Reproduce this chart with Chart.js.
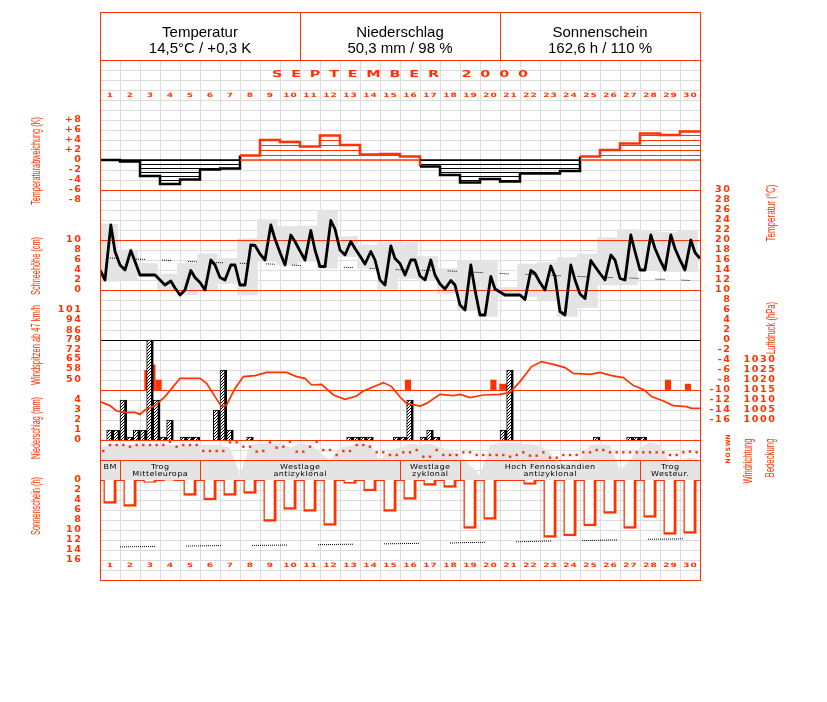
<!DOCTYPE html>
<html lang="de">
<head>
<meta charset="utf-8">
<title>September 2000</title>
<script src="https://cdn.jsdelivr.net/npm/chart.js@4.4.1/dist/chart.umd.min.js"></script>
<style>
html,body{margin:0;padding:0;background:#ffffff;overflow:hidden;}
canvas{display:block;}
</style>
</head>
<body>
<canvas id="chart" width="827" height="702"></canvas>
<script>
// ===================== DATA =====================
const dayLabels = ['1','2','3','4','5','6','7','8','9','10','11','12','13','14','15',
                   '16','17','18','19','20','21','22','23','24','25','26','27','28','29','30'];
const headerTitles = ['Temperatur', 'Niederschlag', 'Sonnenschein'];
const headerValues = ['14,5°C / +0,3 K', '50,3 mm / 98 %', '162,6 h / 110 %'];
const monthTitle = 'SEPTEMBER 2000';

// daily temperature deviation (K)
const tempDeviation = [0.0,-0.3,-3.2,-4.8,-3.9,-1.9,-1.7,0.9,4.0,3.6,2.7,4.9,3.0,1.1,1.2,
                       0.7,-1.3,-3.0,-4.5,-3.8,-4.3,-2.7,-2.7,-2.2,0.7,2.0,3.3,5.3,5.0,5.7];

// temperature observations (°C), 4 per day at these hours
const obsHours = [0, 6, 13, 18];
const tempObs = [
  14.0, 12.0, 23.0, 17.7,
  15.0, 14.0, 17.9, 15.7,
  13.0, 13.0, 13.0, 13.0,
  12.0, 11.0, 11.8, 10.4,
   9.0, 10.0, 13.9, 12.5,
  11.5, 10.0, 16.0, 15.0,
  12.5, 12.0, 15.0, 15.0,
  11.0, 11.0, 19.0, 18.9,
  17.2, 16.0, 23.0, 20.2,
  17.5, 15.0, 21.0, 19.7,
  17.8, 16.0, 21.9, 18.0,
  14.7, 14.7, 23.9, 22.2,
  18.0, 17.0, 19.7, 18.3,
  16.8, 15.2, 17.7, 16.0,
  12.0, 11.0, 18.8, 16.3,
  15.3, 13.0, 16.0, 16.0,
  12.8, 12.0, 16.0, 13.0,
  11.2, 10.2, 11.9, 11.0,
   7.0,  6.0, 15.0, 10.0,
   5.0,  5.0, 12.7, 10.2,
   9.6,  9.0,  9.0,  9.0,
   9.0,  8.1, 13.9, 13.3,
  11.5, 10.0, 14.8, 12.7,
   5.7,  5.0, 15.0, 12.0,
   9.2,  8.3, 15.9, 14.7,
  13.3, 12.0, 17.0, 16.0,
  12.3, 12.0, 21.0, 17.7,
  14.0, 14.0, 21.0, 18.3,
  16.0, 14.0, 21.0, 18.3,
  16.0, 14.0, 20.0, 17.5
];
const tempObsEnd = 16.3;

// daily temperature range (°C)
const tempMax = [23.2,18.0,15.3,13.2,15.3,17.2,16.3,20.3,24.1,22.7,22.8,26.0,20.7,19.0,19.5,
                 19.5,16.7,14.3,15.9,15.7,10.5,15.2,15.5,16.5,17.2,20.5,22.1,21.9,21.5,21.9];
const tempMin = [11.7,12.0,12.8,10.1, 9.0,10.0,11.3, 9.0,15.7,15.0,15.7,14.3,16.7,14.3,10.1,
                 12.3,12.0, 9.3, 6.0, 4.7, 8.7, 8.7, 8.0, 4.7, 6.5,11.0,11.0,13.9,13.7,13.7];
// long-term mean temperature (°C)
const tempNormal = [16.4,16.2,16.1,15.9,15.7,15.5,15.4,15.3,15.2,15.0,14.8,14.7,14.5,14.3,14.1,
                    14.0,13.9,13.8,13.6,13.4,13.2,13.1,12.9,12.8,12.6,12.5,12.4,12.2,12.1,11.9];

// air pressure (hPa)
const pressureDay = [0,0.5,0.83,1.25,1.75,2.0,2.25,2.75,3.25,4.0,5.0,5.33,5.75,6.08,6.33,
                     6.75,7.17,7.75,8.33,9.33,9.83,10.25,10.58,11.08,11.67,12.25,12.83,13.17,14.17,14.58,
                     15.0,15.33,16.0,16.33,17.0,17.67,18.0,18.5,19.17,20.0,20.5,21.0,21.58,22.08,22.67,
                     23.25,23.67,24.5,25.0,25.58,26.17,26.67,27.17,27.58,28.17,28.67,29.33,29.58,30.0];
const pressureHpa = [1009.2,1007.2,1004.5,1003.8,1003.8,1002.8,1005.0,1007.2,1011.7,1020.8,
                     1020.8,1018.3,1011.7,1006.7,1007.5,1015.8,1021.7,1022.2,1023.8,1023.8,
                     1021.7,1020.8,1017.5,1017.8,1012.5,1010.3,1012.0,1014.5,1018.7,1016.7,
                     1011.5,1008.3,1007.0,1008.3,1012.8,1012.2,1012.8,1011.2,1012.5,1012.8,
                     1013.8,1019.2,1026.7,1029.2,1027.8,1026.2,1023.3,1022.8,1023.8,1022.2,
                     1021.2,1017.2,1015.3,1011.7,1009.5,1007.2,1006.7,1005.8,1005.8];

// precipitation (mm) per third of a day
const precipThirds = [
  0,1.0,1.0,  4.0,0.3,1.0,  1.0,10.0,4.0,  0.3,2.0,0,  0.3,0.3,0.3,
  0,0,3.0,    7.0,1.0,0,    0,0.3,0,       0,0,0,      0,0,0,
  0,0,0,      0,0,0,        0,0.3,0.3,     0.3,0.3,0,  0,0,0.3,
  0.3,4.0,0,  0.3,1.0,0.3,  0,0,0,         0,0,0,      0,0,0,
  1.0,7.0,0,  0,0,0,        0,0,0,         0,0,0,      0,0,0.3,
  0,0,0,      0,0.3,0.3,    0.3,0,0,       0,0,0,      0,0,0
];

// wind gusts >= 47 km/h
const gustDay = [2.37, 2.62, 2.93, 15.4, 19.67, 20.12, 20.38, 28.4, 29.4];
const gustKmh = [57, 61, 50, 50, 50, 47, 47, 50, 47];
const gustFloor = 43;

// wind direction (degrees) per third of a day
const windDirDeg = [
  150,240,240,240,215,240,240,240,240,240,
  290,215,240,240,240,150,150,150,150,280,
  280,215,215,140,150,280,200,215,290,140,
  140,215,290,165,165, 90,150,150,240,240,
  215,130,130, 90, 90,130,130,165, 65, 65,
  165, 90, 90, 90,130,130, 90, 90, 90, 90,
   90, 65, 90,130, 80, 80,130, 50, 50, 90,
   90, 90,130,130,165,165,130,130,130,130,
  130,130,130,130,130, 90, 90,130,140,130
];

// cloud cover (octas) every half day
const cloudOcta = [6.3,7.3,7,7,7,7,7,7,6.8,7,7,7,7,6.5,1,7,7.3,7.3,7.3,6.5,
                   7.3,7,5.5,4,6.5,6.8,7.4,7,4,6,6.5,7.3,7,7.3,6.5,6,5,3,1,7,
                   7.3,7.5,7.3,7.2,6.8,5.5,3,3.5,4,7,7.2,7,2,4,6.5,7.5,7,3.5,4,4.5,4];

// sunshine (h) and astronomically possible sunshine
const sunHours = [4.7,5.3,0.5,0.2,3.1,4.0,3.1,2.7,8.3,5.9,6.3,9.1,0.7,2.2,6.3,
                  3.9,1.1,1.5,9.7,7.9,0,0.9,11.5,11.2,9.2,6.7,9.7,7.5,10.9,10.7];
const sunPossible = [13.4,13.35,13.3,13.25,13.2,13.15,13.1,13.1,13.05,13.0,12.95,12.9,12.85,12.8,12.75,
                     12.7,12.65,12.6,12.5,12.45,12.4,12.3,12.2,12.15,12.1,12.0,11.95,11.85,11.8,11.75];

// weather types
const weatherTypes = [['BM'], ['Trog','Mitteleuropa'], ['Westlage','antizyklonal'],
                      ['Westlage','zyklonal'], ['Hoch Fennoskandien','antizyklonal'], ['Trog','Westeur.']];
const weatherFrom = [1, 2, 6, 16, 19, 28];
const weatherTo   = [1, 5, 15, 18, 27, 30];

// tick labels
const devTicks = [8,6,4,2,0,-2,-4,-6,-8];
const snowTicks = [10,8,6,4,2,0];
const gustTicks = [101,94,86,79,72,65,58,50];
const precipTicks = [4,3,2,1,0];
const sunTicks = [0,2,4,6,8,10,12,14,16];
const tempTicks = [30,28,26,24,22,20,18,16,14,12,10,8,6,4,2,0,-2,-4,-6,-8,-10,-12,-14,-16];
const pressTicks = [1030,1025,1020,1015,1010,1005,1000];
const dirTicks = [0, 90, 180, 270, 360];
const dirLetters = ['N', 'O', 'S', 'W', 'N'];

const leftTitles = [
  {text:'Temperaturabweichung (K)', cy:161, len:88},
  {text:'Schneehöhe (cm)', cy:266, len:58},
  {text:'Windspitzen ab 47 km/h', cy:345, len:80},
  {text:'Niederschlag (mm)', cy:428, len:62},
  {text:'Sonnenschein (h)', cy:506, len:58}
];
const rightTitles = [
  {text:'Temperatur (°C)', cx:771, cy:213, len:57},
  {text:'Luftdruck (hPa)', cx:771, cy:328, len:52},
  {text:'Windrichtung', cx:748, cy:461, len:45},
  {text:'Bedeckung', cx:770, cy:458, len:39}
];

// ===================== STYLE =====================
const RED = '#ff3300';
const BLACK = '#000000';
const GRID = '#dcdcdc';
const SHADE = '#e4e4e4';
const AREA_TOP = 60, AREA_BOTTOM = 580;
const dayBoxOffset = 0.375;

const canvas = document.getElementById('chart');
const ctx0 = canvas.getContext('2d');

function linePattern(color, period) {
  const c = document.createElement('canvas'); c.width = 4; c.height = period;
  const g = c.getContext('2d'); g.fillStyle = color; g.fillRect(0, 0, 4, 1);
  return ctx0.createPattern(c, 'repeat');
}
function diagonalPattern() {
  const c = document.createElement('canvas'); c.width = 3; c.height = 3;
  const g = c.getContext('2d'); g.fillStyle = '#ffffff'; g.fillRect(0, 0, 3, 3);
  g.fillStyle = '#000000'; g.fillRect(2, 0, 1, 1); g.fillRect(1, 1, 1, 1); g.fillRect(0, 2, 1, 1);
  return ctx0.createPattern(c, 'repeat');
}
function dotRun(dots, gap) { const a = []; for (let i = 0; i < dots; i++) a.push(1, 1); a[a.length - 1] = gap; return a; }

function axis(v0, y0, ppu, reverse) {
  const up = (y0 - AREA_TOP) / ppu, down = (AREA_BOTTOM - y0) / ppu;
  return reverse
    ? {type:'linear', display:false, reverse:true, bounds:'data', min: v0 - up, max: v0 + down}
    : {type:'linear', display:false, bounds:'data', min: v0 - down, max: v0 + up};
}

// ===================== DATASETS =====================
const devPoints = tempDeviation.map((v, i) => ({x: i, y: v})).concat([{x: 30, y: tempDeviation[29]}]);
const tempPoints = tempObs.map((v, k) => ({x: Math.floor(k / 4) + obsHours[k % 4] / 24, y: v}));
tempPoints.push({x: 30, y: tempObsEnd});
const rangeBars = tempMax.map((v, i) => ({x: i + dayBoxOffset, y: [tempMin[i], v]}));
const normalPoints = tempNormal.map((v, i) => ({x: i + 0.5, y: v}));
const pressPoints = pressureHpa.map((v, i) => ({x: pressureDay[i], y: v}));
const precipBars = precipThirds.map((v, k) => ({x: (k + 0.5) / 3, y: v > 0 ? v : null}));
const gustBars = gustKmh.map((v, i) => ({x: gustDay[i], y: [gustFloor, v]}));
const dirPoints = windDirDeg.map((v, k) => ({x: (k + 0.5) / 3, y: v}));
const cloudPoints = cloudOcta.map((v, i) => ({x: i * 0.5, y: v}));
const sunBars = sunHours.map((v, i) => ({x: i + 0.5, y: v > 0 ? v : null}));
const sunPossPoints = sunPossible.map((v, i) => ({x: i + 0.5, y: v}));

const datasets = [
  {label:'Bedeckung', type:'line', yAxisID:'yCloud', data: cloudPoints, borderWidth:0, pointRadius:0,
   tension:0, fill:'origin', backgroundColor: SHADE, order:100},
  {label:'Tagesspanne', type:'bar', yAxisID:'yTemp', data: rangeBars, backgroundColor: SHADE,
   borderWidth:0, barThickness:20, grouped:false, clip:0, order:90},
  {label:'Temperaturabweichung', type:'line', yAxisID:'yDev', data: devPoints, stepped:'before',
   borderWidth:2.5, pointRadius:0, borderColor: RED,
   segment:{borderColor: c => c.p0.parsed.y > 0 ? RED : BLACK},
   fill:{target:'origin', above: linePattern(RED, 5), below: linePattern(BLACK, 4)}, order:80},
  {label:'Mitteltemperatur', type:'line', yAxisID:'yTemp', data: normalPoints, borderColor: BLACK,
   borderWidth:1, borderDash: dotRun(5, 17), pointRadius:0, tension:0, fill:false, order:70},
  {label:'Temperatur', type:'line', yAxisID:'yTemp', data: tempPoints, borderColor: BLACK,
   borderWidth:2.8, borderJoinStyle:'round', pointRadius:0, tension:0, fill:false, order:60},
  {label:'Windspitzen', type:'bar', yAxisID:'yGust', data: gustBars, backgroundColor: RED,
   borderWidth:0, barThickness:5.5, grouped:false, clip:0, order:50},
  {label:'Niederschlag', type:'bar', yAxisID:'yPrec', data: precipBars, backgroundColor: diagonalPattern(),
   borderColor: BLACK, borderWidth:{top:1, left:1, right:2.7, bottom:0}, borderSkipped:false,
   barThickness:6.67, grouped:false, clip:0, order:45},
  {label:'Luftdruck', type:'line', yAxisID:'yPres', data: pressPoints, borderColor: RED,
   borderWidth:1.7, pointRadius:0, tension:0, fill:false, order:40},
  {label:'Windrichtung', type:'line', yAxisID:'yDir', data: dirPoints, showLine:false,
   pointStyle:'rect', pointRadius:1.7, pointBackgroundColor: RED, pointBorderWidth:0, order:35},
  {label:'Sonnenschein', type:'bar', yAxisID:'ySun', data: sunBars, backgroundColor:'#ffffff',
   borderColor: RED, borderWidth:{top:0, left:1.5, right:3, bottom:2.5}, borderSkipped:false,
   barThickness:12.7, grouped:false, clip:0, order:30},
  {label:'Sonnenscheindauer möglich', type:'line', yAxisID:'ySun', data: sunPossPoints,
   borderColor: BLACK, borderWidth:1, borderDash: dotRun(18, 31), borderDashOffset: 56,
   pointRadius:0, tension:0, fill:false, order:25}
];

// ===================== TEXT HELPERS =====================
function drawLabel(ctx, str, x, y, o) {
  ctx.save();
  ctx.font = o.font;
  ctx.fillStyle = o.color || RED;
  const ls = o.ls || 0;
  ctx.letterSpacing = ls + 'px';
  ctx.textAlign = 'left';
  ctx.textBaseline = o.baseline || 'middle';
  const sx = o.sx || 1;
  const w = (ctx.measureText(str).width - ls) * sx;
  const left = o.align === 'right' ? x - w : (o.align === 'left' ? x : x - w / 2);
  ctx.translate(left, y);
  ctx.scale(sx, 1);
  ctx.fillText(str, 0, 0);
  ctx.restore();
}
function drawVertical(ctx, str, cx, cy, len, font, color) {
  ctx.save();
  ctx.font = font; ctx.fillStyle = color; ctx.letterSpacing = '0px';
  const w = ctx.measureText(str).width;
  ctx.translate(cx, cy); ctx.rotate(-Math.PI / 2); ctx.scale(len / w, 1);
  ctx.textAlign = 'center'; ctx.textBaseline = 'middle';
  ctx.fillText(str, 0, 0);
  ctx.restore();
}
const crisp = v => Math.round(v) + 0.5;

const TICK_FONT = 'bold 8px "DejaVu Sans", sans-serif';
const DAY_FONT = 'bold 6px "DejaVu Sans", sans-serif';
const TITLE_FONT = '13px "Liberation Sans", Arial, sans-serif';

// ===================== PLUGIN =====================
const decorations = {
  id: 'decorations',
  beforeDatasetsDraw(chart) {
    const {ctx, chartArea: a, scales: s} = chart;
    ctx.save();
    ctx.strokeStyle = GRID; ctx.lineWidth = 1;
    ctx.beginPath();
    for (let d = 1; d < 30; d++) {
      const x = crisp(s.x.getPixelForValue(d));
      ctx.moveTo(x, a.top); ctx.lineTo(x, a.bottom);
    }
    for (let v = 54; v > s.yTemp.min; v -= 2) {
      const y = crisp(s.yTemp.getPixelForValue(v));
      ctx.moveTo(a.left, y); ctx.lineTo(a.right, y);
    }
    ctx.stroke();
    ctx.restore();
  },
  afterDatasetDraw(chart, args) {
    if (chart.data.datasets[args.index].label !== 'Tagesspanne') return;
    const {ctx, chartArea: a, scales: s} = chart;
    ctx.save();
    ctx.lineWidth = 1;
    const hline = (y, color) => {
      ctx.strokeStyle = color; ctx.beginPath();
      ctx.moveTo(a.left, crisp(y)); ctx.lineTo(a.right, crisp(y)); ctx.stroke();
    };
    [30, 20, 10].forEach(v => hline(s.yTemp.getPixelForValue(v), RED));
    hline(s.yTemp.getPixelForValue(0), BLACK);
    hline(s.yPres.getPixelForValue(1015), RED);
    hline(s.yPrec.getPixelForValue(0), RED);
    const yTop = s.yCloud.getPixelForValue(4), yBot = s.yCloud.getPixelForValue(0);
    hline(yTop, RED); hline(yBot, RED);
    ctx.strokeStyle = RED; ctx.beginPath();
    weatherFrom.forEach(d => {
      const x = crisp(s.x.getPixelForValue(d - 1));
      ctx.moveTo(x, crisp(yTop)); ctx.lineTo(x, crisp(yBot));
    });
    ctx.stroke();
    ctx.restore();
  },
  afterDatasetsDraw(chart) {
    const {ctx, scales: s} = chart;
    ctx.save();
    ctx.lineWidth = 1.5;
    const y0 = s.yDev.getPixelForValue(0);
    tempDeviation.forEach((v, i) => {
      ctx.strokeStyle = v > 0 ? RED : BLACK;
      ctx.beginPath();
      ctx.moveTo(s.x.getPixelForValue(i), y0); ctx.lineTo(s.x.getPixelForValue(i + 1), y0);
      ctx.stroke();
    });
    ctx.restore();
  },
  afterDraw(chart) {
    const {ctx, chartArea: a, scales: s} = chart;
    const X = v => s.x.getPixelForValue(v);
    ctx.save();
    // frame & header
    const headTop = 12;
    ctx.strokeStyle = RED; ctx.lineWidth = 1;
    ctx.strokeRect(crisp(a.left), crisp(headTop), Math.round(a.right - a.left), Math.round(a.bottom - headTop));
    ctx.beginPath();
    ctx.moveTo(a.left, crisp(a.top)); ctx.lineTo(a.right, crisp(a.top));
    [10, 20].forEach(d => { ctx.moveTo(crisp(X(d)), headTop); ctx.lineTo(crisp(X(d)), a.top); });
    ctx.stroke();
    headerTitles.forEach((t, i) => {
      drawLabel(ctx, t, X(5 + 10 * i), 37, {font:'15px "Liberation Sans", Arial, sans-serif', color:BLACK, baseline:'alphabetic'});
      drawLabel(ctx, headerValues[i], X(5 + 10 * i), 53, {font:'15px "Liberation Sans", Arial, sans-serif', color:BLACK, baseline:'alphabetic'});
    });
    // month title
    ctx.font = 'bold 9px "DejaVu Sans", sans-serif'; ctx.letterSpacing = '0px';
    const w0 = ctx.measureText(monthTitle).width;
    const msx = 1.6, mls = (256 / msx - w0) / (monthTitle.length - 1);
    drawLabel(ctx, monthTitle, X(15), 75, {font:'bold 9px "DejaVu Sans", sans-serif', sx:msx, ls:mls});
    // day labels
    dayLabels.forEach((t, i) => {
      drawLabel(ctx, t, X(i + 0.5), 95, {font:DAY_FONT, sx:1.5, ls:0.6});
      drawLabel(ctx, t, X(i + 0.5), 565, {font:DAY_FONT, sx:1.5, ls:0.6});
    });
    // left ticks
    const tick = (txt, x, y, align) => drawLabel(ctx, txt, x, y, {font:TICK_FONT, sx:1.2, ls:1.3, align});
    devTicks.forEach(v => tick((v > 0 ? '+' : '') + v, 81, s.yDev.getPixelForValue(v), 'right'));
    snowTicks.forEach(v => tick(String(v), 81, s.ySnow.getPixelForValue(v), 'right'));
    gustTicks.forEach(v => tick(String(v), 81, s.yGust.getPixelForValue(v), 'right'));
    precipTicks.forEach(v => tick(String(v), 81, s.yPrec.getPixelForValue(v), 'right'));
    sunTicks.forEach(v => tick(String(v), 81, s.ySun.getPixelForValue(v), 'right'));
    // right ticks
    tempTicks.forEach(v => tick(String(v), 730, s.yTemp.getPixelForValue(v), 'right'));
    pressTicks.forEach(v => tick(String(v), 775, s.yPres.getPixelForValue(v), 'right'));
    dirTicks.forEach((v, i) => {
      ctx.save();
      ctx.translate(728, s.yDir.getPixelForValue(v)); ctx.rotate(-Math.PI / 2);
      ctx.font = 'bold 6px "DejaVu Sans", sans-serif'; ctx.fillStyle = RED;
      ctx.textAlign = 'center'; ctx.textBaseline = 'middle';
      ctx.fillText(dirLetters[i], 0, 0);
      ctx.restore();
    });
    // titles
    leftTitles.forEach(t => drawVertical(ctx, t.text, 36, t.cy, t.len, TITLE_FONT, RED));
    rightTitles.forEach(t => drawVertical(ctx, t.text, t.cx, t.cy, t.len, TITLE_FONT, RED));
    // weather type texts
    weatherTypes.forEach((lines, i) => {
      const cx = (X(weatherFrom[i] - 1) + X(weatherTo[i])) / 2;
      lines.forEach((ln, j) => drawLabel(ctx, ln, cx, 468.5 + 7.5 * j,
        {font:'7px "DejaVu Sans", sans-serif', color:BLACK, sx:1.15, ls:0.35, baseline:'alphabetic'}));
    });
    ctx.restore();
  }
};

// ===================== CHART =====================
new Chart(canvas, {
  type: 'line',
  data: { datasets },
  options: {
    responsive: false,
    animation: false,
    devicePixelRatio: 1,
    events: [],
    layout: { padding: { left: 100, right: 127, top: AREA_TOP, bottom: 702 - AREA_BOTTOM } },
    plugins: { legend: {display:false}, tooltip: {enabled:false}, title: {display:false} },
    scales: {
      x: {type:'linear', display:false, min:0, max:30, offset:false, bounds:'data'},
      yDev: axis(0, 160, 5),
      yTemp: axis(0, 340, 5),
      ySnow: axis(0, 290, 5),
      yGust: axis(50, 380, 70 / 51),
      yPrec: axis(0, 440, 10),
      yPres: axis(1000, 420, 2),
      yDir: axis(0, 461, 24 / 360),
      yCloud: axis(0, 480, 5),
      ySun: axis(0, 480, 5, true)
    }
  },
  plugins: [decorations]
});
</script>
</body>
</html>
